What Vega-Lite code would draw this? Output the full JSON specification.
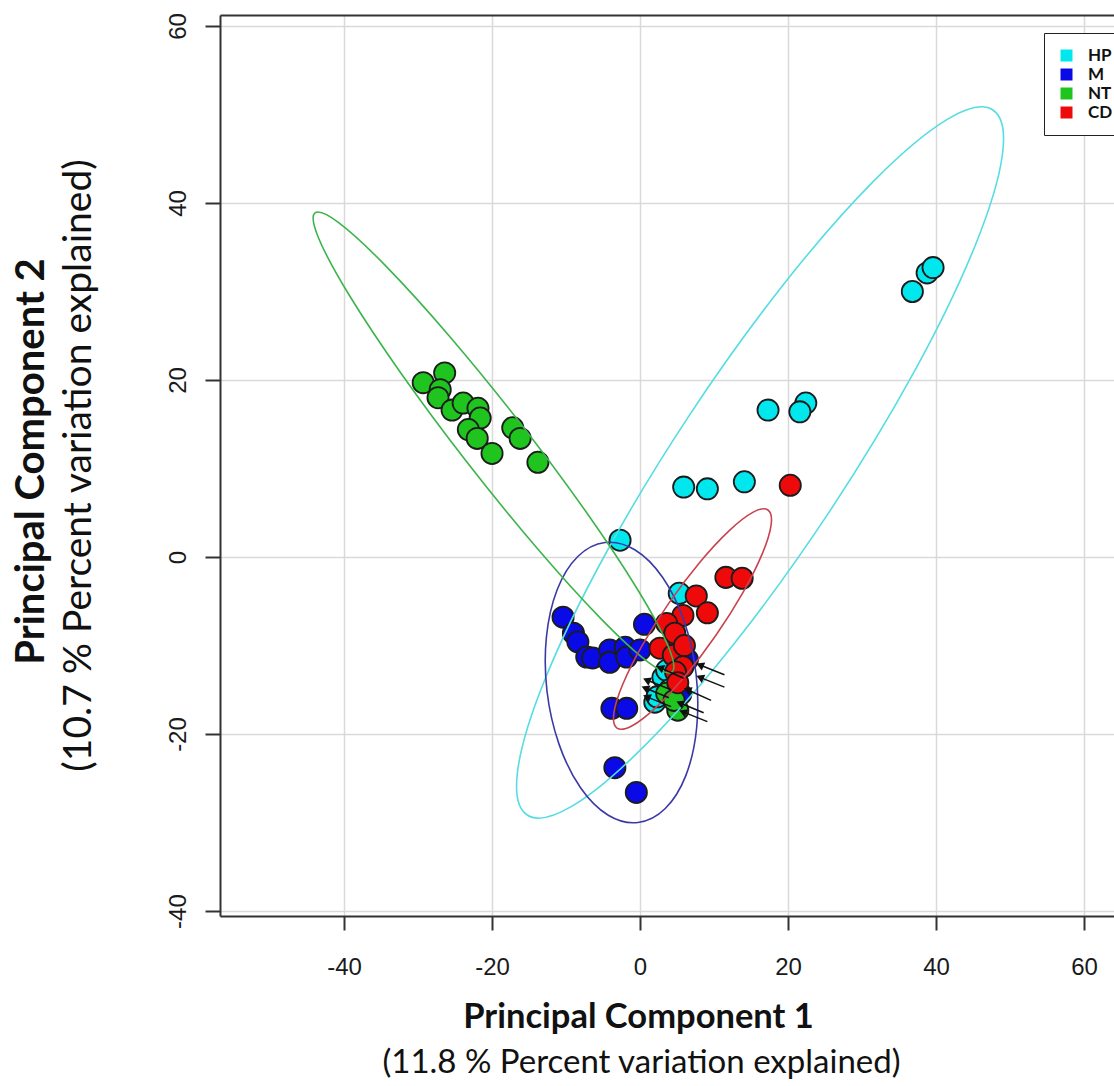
{
  "$schema": "https://vega.github.io/schema/vega-lite/v6.json",
  "width": 894,
  "height": 901,
  "autosize": {"type": "none"},
  "padding": {"left": 220, "top": 15, "right": 0, "bottom": 170},
  "background": "white",
  "config": {"view": {"stroke": null}, "axis": {"labelFlush": false, "labelOverlap": false}},
  "datasets": {
    "points": [
      {"group": "M", "pc1": -10.4, "pc2": -6.8},
      {"group": "M", "pc1": -9.0, "pc2": -8.6},
      {"group": "M", "pc1": -8.4, "pc2": -9.6},
      {"group": "M", "pc1": -7.2, "pc2": -11.3},
      {"group": "M", "pc1": -6.4, "pc2": -11.4},
      {"group": "M", "pc1": -4.1, "pc2": -10.5},
      {"group": "M", "pc1": -4.1, "pc2": -11.9},
      {"group": "M", "pc1": -2.0, "pc2": -10.2},
      {"group": "M", "pc1": -1.8, "pc2": -11.3},
      {"group": "M", "pc1": 0.0, "pc2": -10.5},
      {"group": "M", "pc1": 0.6, "pc2": -7.6},
      {"group": "M", "pc1": -3.8, "pc2": -17.1},
      {"group": "M", "pc1": -1.8, "pc2": -17.1},
      {"group": "M", "pc1": -3.4, "pc2": -23.8},
      {"group": "M", "pc1": -0.5, "pc2": -26.6},
      {"group": "M", "pc1": 6.4, "pc2": -11.6},
      {"group": "M", "pc1": 5.5, "pc2": -15.5},
      {"group": "HP", "pc1": 38.8, "pc2": 32.1},
      {"group": "HP", "pc1": 39.6, "pc2": 32.7},
      {"group": "HP", "pc1": 36.8, "pc2": 30.0},
      {"group": "HP", "pc1": 17.3, "pc2": 16.6},
      {"group": "HP", "pc1": 22.4, "pc2": 17.4},
      {"group": "HP", "pc1": 21.6, "pc2": 16.4},
      {"group": "HP", "pc1": 9.1, "pc2": 7.7},
      {"group": "HP", "pc1": 14.1, "pc2": 8.5},
      {"group": "HP", "pc1": 5.9, "pc2": 7.9},
      {"group": "HP", "pc1": -2.7, "pc2": 1.9},
      {"group": "HP", "pc1": 5.3, "pc2": -4.1},
      {"group": "HP", "pc1": 3.1, "pc2": -13.6},
      {"group": "HP", "pc1": 2.0, "pc2": -16.4},
      {"group": "HP", "pc1": 2.3, "pc2": -15.8},
      {"group": "HP", "pc1": 3.6, "pc2": -12.8},
      {"group": "HP", "pc1": 4.0, "pc2": -15.0},
      {"group": "NT", "pc1": -29.3, "pc2": 19.7},
      {"group": "NT", "pc1": -26.4, "pc2": 20.8},
      {"group": "NT", "pc1": -27.0, "pc2": 18.9},
      {"group": "NT", "pc1": -27.3, "pc2": 18.0},
      {"group": "NT", "pc1": -25.4, "pc2": 16.6},
      {"group": "NT", "pc1": -23.9, "pc2": 17.4},
      {"group": "NT", "pc1": -21.9, "pc2": 16.8},
      {"group": "NT", "pc1": -21.6, "pc2": 15.7},
      {"group": "NT", "pc1": -23.2, "pc2": 14.4},
      {"group": "NT", "pc1": -22.0, "pc2": 13.4},
      {"group": "NT", "pc1": -20.0, "pc2": 11.7},
      {"group": "NT", "pc1": -17.2, "pc2": 14.6},
      {"group": "NT", "pc1": -16.2, "pc2": 13.4},
      {"group": "NT", "pc1": -13.8, "pc2": 10.7},
      {"group": "NT", "pc1": 3.6, "pc2": -15.4},
      {"group": "NT", "pc1": 5.1, "pc2": -17.3},
      {"group": "NT", "pc1": 4.6, "pc2": -16.2},
      {"group": "CD", "pc1": 20.3, "pc2": 8.1},
      {"group": "CD", "pc1": 11.6, "pc2": -2.3},
      {"group": "CD", "pc1": 13.8, "pc2": -2.4},
      {"group": "CD", "pc1": 7.6, "pc2": -4.4},
      {"group": "CD", "pc1": 9.1, "pc2": -6.3},
      {"group": "CD", "pc1": 5.8, "pc2": -6.6},
      {"group": "CD", "pc1": 3.6, "pc2": -7.5},
      {"group": "CD", "pc1": 4.7, "pc2": -8.6},
      {"group": "CD", "pc1": 2.7, "pc2": -10.3},
      {"group": "CD", "pc1": 4.5, "pc2": -11.1},
      {"group": "CD", "pc1": 6.0, "pc2": -10.0},
      {"group": "CD", "pc1": 5.8, "pc2": -12.4},
      {"group": "CD", "pc1": 4.8, "pc2": -13.0},
      {"group": "CD", "pc1": 5.1, "pc2": -14.2}
    ],
    "ellipses": [
      {"group": "HP", "i": 0, "pc1": 47.69, "pc2": 50.51},
      {"group": "HP", "i": 1, "pc1": 48.97, "pc2": 45.45},
      {"group": "HP", "i": 2, "pc1": 45.24, "pc2": 35.09},
      {"group": "HP", "i": 3, "pc1": 37.11, "pc2": 21.02},
      {"group": "HP", "i": 4, "pc1": 25.8, "pc2": 5.38},
      {"group": "HP", "i": 5, "pc1": 13.03, "pc2": -9.46},
      {"group": "HP", "i": 6, "pc1": 0.74, "pc2": -21.23},
      {"group": "HP", "i": 7, "pc1": -9.19, "pc2": -28.15},
      {"group": "HP", "i": 8, "pc1": -15.25, "pc2": -29.15},
      {"group": "HP", "i": 9, "pc1": -16.53, "pc2": -24.09},
      {"group": "HP", "i": 10, "pc1": -12.8, "pc2": -13.73},
      {"group": "HP", "i": 11, "pc1": -4.67, "pc2": 0.34},
      {"group": "HP", "i": 12, "pc1": 6.64, "pc2": 15.98},
      {"group": "HP", "i": 13, "pc1": 19.41, "pc2": 30.82},
      {"group": "HP", "i": 14, "pc1": 31.7, "pc2": 42.59},
      {"group": "HP", "i": 15, "pc1": 41.63, "pc2": 49.51},
      {"group": "M", "i": 0, "pc1": -4.73, "pc2": 1.64},
      {"group": "M", "i": 1, "pc1": -0.71, "pc2": 0.82},
      {"group": "M", "i": 2, "pc1": 3.04, "pc2": -2.29},
      {"group": "M", "i": 3, "pc1": 5.95, "pc2": -7.22},
      {"group": "M", "i": 4, "pc1": 7.57, "pc2": -13.19},
      {"group": "M", "i": 5, "pc1": 7.65, "pc2": -19.32},
      {"group": "M", "i": 6, "pc1": 6.2, "pc2": -24.67},
      {"group": "M", "i": 7, "pc1": 3.41, "pc2": -28.42},
      {"group": "M", "i": 8, "pc1": -0.27, "pc2": -30.0},
      {"group": "M", "i": 9, "pc1": -4.29, "pc2": -29.18},
      {"group": "M", "i": 10, "pc1": -8.04, "pc2": -26.07},
      {"group": "M", "i": 11, "pc1": -10.95, "pc2": -21.14},
      {"group": "M", "i": 12, "pc1": -12.57, "pc2": -15.17},
      {"group": "M", "i": 13, "pc1": -12.65, "pc2": -9.04},
      {"group": "M", "i": 14, "pc1": -11.2, "pc2": -3.69},
      {"group": "M", "i": 15, "pc1": -8.41, "pc2": 0.06},
      {"group": "NT", "i": 0, "pc1": 4.32, "pc2": -12.99},
      {"group": "NT", "i": 1, "pc1": 3.83, "pc2": -10.14},
      {"group": "NT", "i": 2, "pc1": -0.25, "pc2": -3.78},
      {"group": "NT", "i": 3, "pc1": -7.32, "pc2": 5.14},
      {"group": "NT", "i": 4, "pc1": -16.28, "pc2": 15.23},
      {"group": "NT", "i": 5, "pc1": -25.78, "pc2": 24.98},
      {"group": "NT", "i": 6, "pc1": -34.37, "pc2": 32.9},
      {"group": "NT", "i": 7, "pc1": -40.73, "pc2": 37.78},
      {"group": "NT", "i": 8, "pc1": -43.92, "pc2": 38.87},
      {"group": "NT", "i": 9, "pc1": -43.43, "pc2": 36.02},
      {"group": "NT", "i": 10, "pc1": -39.35, "pc2": 29.66},
      {"group": "NT", "i": 11, "pc1": -32.28, "pc2": 20.74},
      {"group": "NT", "i": 12, "pc1": -23.32, "pc2": 10.65},
      {"group": "NT", "i": 13, "pc1": -13.82, "pc2": 0.9},
      {"group": "NT", "i": 14, "pc1": -5.23, "pc2": -7.02},
      {"group": "NT", "i": 15, "pc1": 1.13, "pc2": -11.9},
      {"group": "CD", "i": 0, "pc1": 17.29, "pc2": 5.31},
      {"group": "CD", "i": 1, "pc1": 17.72, "pc2": 3.67},
      {"group": "CD", "i": 2, "pc1": 16.54, "pc2": 0.41},
      {"group": "CD", "i": 3, "pc1": 13.92, "pc2": -3.99},
      {"group": "CD", "i": 4, "pc1": 10.26, "pc2": -8.84},
      {"group": "CD", "i": 5, "pc1": 6.12, "pc2": -13.41},
      {"group": "CD", "i": 6, "pc1": 2.12, "pc2": -17.01},
      {"group": "CD", "i": 7, "pc1": -1.12, "pc2": -19.09},
      {"group": "CD", "i": 8, "pc1": -3.11, "pc2": -19.33},
      {"group": "CD", "i": 9, "pc1": -3.54, "pc2": -17.69},
      {"group": "CD", "i": 10, "pc1": -2.36, "pc2": -14.43},
      {"group": "CD", "i": 11, "pc1": 0.26, "pc2": -10.03},
      {"group": "CD", "i": 12, "pc1": 3.92, "pc2": -5.18},
      {"group": "CD", "i": 13, "pc1": 8.06, "pc2": -0.61},
      {"group": "CD", "i": 14, "pc1": 12.06, "pc2": 2.99},
      {"group": "CD", "i": 15, "pc1": 15.3, "pc2": 5.07}
    ],
    "arrows": [
      {"x_tail": 5.9, "y_tail": -13.7, "x_head": 2.7, "y_head": -12.5},
      {"x_tail": 4.2, "y_tail": -15.0, "x_head": 0.9, "y_head": -13.9},
      {"x_tail": 3.9, "y_tail": -15.9, "x_head": 0.7, "y_head": -14.8},
      {"x_tail": 4.2, "y_tail": -16.9, "x_head": 0.9, "y_head": -15.8},
      {"x_tail": 11.4, "y_tail": -13.3, "x_head": 8.1, "y_head": -12.2},
      {"x_tail": 11.4, "y_tail": -14.7, "x_head": 8.1, "y_head": -13.6},
      {"x_tail": 9.6, "y_tail": -16.2, "x_head": 6.4, "y_head": -15.0},
      {"x_tail": 8.6, "y_tail": -17.6, "x_head": 5.4, "y_head": -16.5},
      {"x_tail": 9.1, "y_tail": -18.6, "x_head": 5.8, "y_head": -17.5}
    ]
  },
  "layer": [
    {
      "data": {"name": "points"},
      "mark": {"type": "point", "shape": "circle", "filled": true, "size": 450, "stroke": "#1c1c1c", "strokeWidth": 1.8, "opacity": 1},
      "encoding": {
        "x": {
          "field": "pc1", "type": "quantitative",
          "scale": {"domain": [-56.76, 64.05], "nice": false, "zero": false},
          "axis": {
            "values": [-40, -20, 0, 20, 40, 60], "grid": true, "gridColor": "#d9d9d9", "gridWidth": 1.5,
            "domainColor": "#333333", "domainWidth": 2, "tickColor": "#333333", "tickWidth": 2, "tickSize": 14,
            "labelExpr": "toString(datum.value)",
            "labelFont": "Liberation Sans", "labelFontSize": 24, "labelColor": "#1a1a1a", "labelPadding": 37, "labelBaseline": "middle",
            "title": "Principal Component 1", "titleFont": "Lato", "titleFontWeight": "bold", "titleFontSize": 34.5, "titleColor": "#111111",
            "titleX": 418, "titleY": 111, "titleAlign": "center", "titleBaseline": "alphabetic"
          }
        },
        "y": {
          "field": "pc2", "type": "quantitative",
          "scale": {"domain": [-40.56, 61.24], "nice": false, "zero": false},
          "axis": {
            "values": [-40, -20, 0, 20, 40, 60], "grid": true, "gridColor": "#d9d9d9", "gridWidth": 1.5,
            "domainColor": "#333333", "domainWidth": 2, "tickColor": "#333333", "tickWidth": 2, "tickSize": 15,
            "labelExpr": "toString(datum.value)",
            "labelFont": "Liberation Sans", "labelFontSize": 24, "labelColor": "#1a1a1a", "labelAngle": 270, "labelAlign": "center", "labelBaseline": "middle", "labelPadding": 27,
            "title": "Principal Component 2", "titleFont": "Lato", "titleFontWeight": "bold", "titleFontSize": 40, "titleColor": "#111111",
            "titleAngle": 270, "titleX": -177, "titleY": 446, "titleAlign": "center", "titleBaseline": "alphabetic"
          }
        },
        "color": {
          "field": "group", "type": "nominal",
          "scale": {"domain": ["HP", "M", "NT", "CD"], "range": ["#00e8ee", "#0a0ae6", "#1fc41f", "#ee0a0a"]},
          "legend": {
            "orient": "none", "legendX": 824, "legendY": 18, "title": null,
            "symbolType": "square", "symbolSize": 144, "symbolStrokeWidth": 0, "symbolOpacity": 1,
            "labelFont": "Lato", "labelFontWeight": "bold", "labelFontSize": 17, "labelColor": "#111111", "labelOffset": 13,
            "rowPadding": 1, "padding": 14, "strokeColor": "#222222", "fillColor": "white"
          }
        }
      }
    },
    {
      "data": {"name": "ellipses"},
      "mark": {"type": "line", "interpolate": "cardinal-closed", "strokeWidth": 1.6},
      "encoding": {
        "x": {
          "field": "pc1", "type": "quantitative",
          "scale": {"domain": [-56.76, 64.05], "nice": false, "zero": false},
          "axis": {
            "orient": "bottom", "domain": false, "ticks": false, "labels": false, "grid": false,
            "title": "(11.8 % Percent variation explained)", "titleFont": "Lato", "titleFontWeight": "normal", "titleFontSize": 33, "titleColor": "#111111",
            "titleX": 421, "titleY": 156, "titleAlign": "center", "titleBaseline": "alphabetic"
          }
        },
        "y": {
          "field": "pc2", "type": "quantitative",
          "scale": {"domain": [-40.56, 61.24], "nice": false, "zero": false},
          "axis": {
            "orient": "left", "domain": false, "ticks": false, "labels": false, "grid": false,
            "title": "(10.7 % Percent variation explained)", "titleFont": "Lato", "titleFontWeight": "normal", "titleFontSize": 39, "titleColor": "#111111",
            "titleAngle": 270, "titleX": -130, "titleY": 450, "titleAlign": "center", "titleBaseline": "alphabetic"
          }
        },
        "color": {
          "field": "group", "type": "nominal",
          "scale": {"domain": ["HP", "M", "NT", "CD"], "range": ["#55dde2", "#3a3aa6", "#3cb44b", "#c8434f"]},
          "legend": null
        },
        "order": {"field": "i", "type": "quantitative"}
      }
    },
    {
      "data": {"name": "arrows"},
      "mark": {"type": "rule", "color": "#111111", "strokeWidth": 1.5},
      "encoding": {
        "x": {
          "field": "x_tail", "type": "quantitative",
          "scale": {"domain": [-56.76, 64.05], "nice": false, "zero": false},
          "axis": {"orient": "top", "domain": true, "domainColor": "#333333", "domainWidth": 2, "ticks": false, "labels": false, "grid": false, "title": null}
        },
        "y": {
          "field": "y_tail", "type": "quantitative",
          "scale": {"domain": [-40.56, 61.24], "nice": false, "zero": false},
          "axis": null
        },
        "x2": {"field": "x_head"},
        "y2": {"field": "y_head"}
      }
    },
    {
      "data": {"name": "arrows"},
      "mark": {"type": "point", "shape": "triangle-left", "filled": true, "color": "#111111", "size": 80, "angle": 23, "opacity": 1},
      "encoding": {
        "x": {"field": "x_head", "type": "quantitative", "scale": {"domain": [-56.76, 64.05], "nice": false, "zero": false}, "axis": null},
        "y": {"field": "y_head", "type": "quantitative", "scale": {"domain": [-40.56, 61.24], "nice": false, "zero": false}, "axis": null}
      }
    }
  ],
  "resolve": {"axis": {"x": "independent", "y": "independent"}, "scale": {"color": "independent"}}
}
